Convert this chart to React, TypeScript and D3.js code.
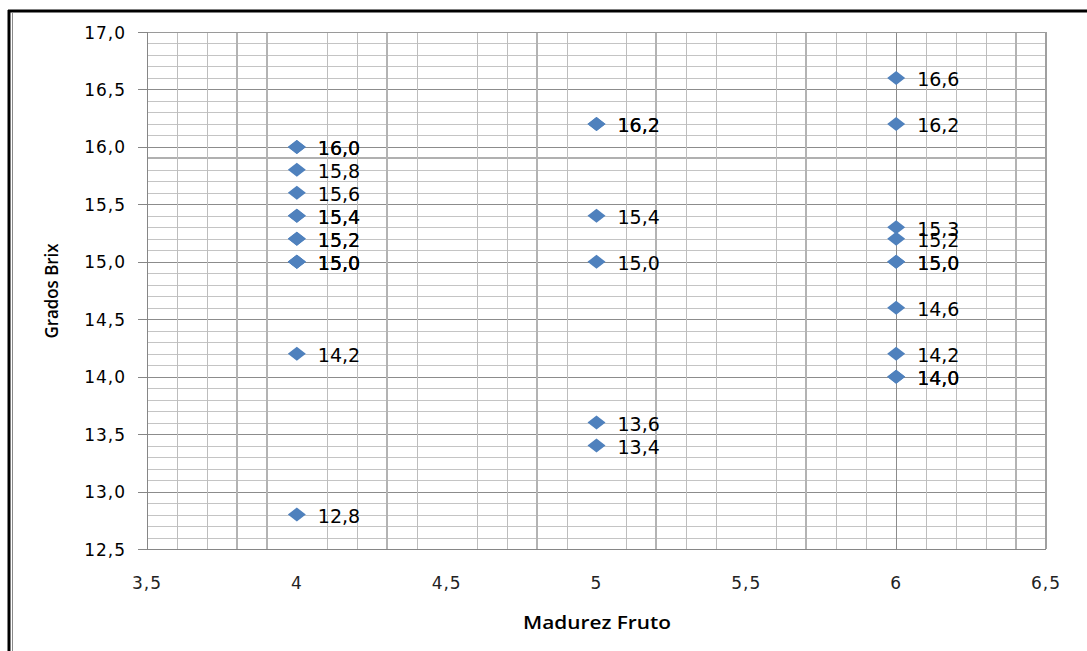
import React from "react";
import * as d3 from "d3";

// Madurez (x) levels and the Grados Brix readings taken at each level
const madurezLevels = [4, 5, 6];
const brixMadurez4 = [16.0, 16.0, 15.8, 15.6, 15.4, 15.4, 15.2, 15.2, 15.0, 15.0, 15.0, 14.2, 12.8];
const brixMadurez5 = [16.2, 16.2, 15.4, 15.0, 13.6, 13.4];
const brixMadurez6 = [16.6, 16.2, 15.3, 15.2, 15.0, 15.0, 14.6, 14.2, 14.0, 14.0];

// Axis ticks
const xTicks = [3.5, 4, 4.5, 5, 5.5, 6, 6.5];
const yTicks = [12.5, 13.0, 13.5, 14.0, 14.5, 15.0, 15.5, 16.0, 16.5, 17.0];

// Vertical grid lines (data units)
const xGridLight = [3.6, 3.7, 4.1, 4.2, 4.4, 4.6, 4.7, 4.9, 5.1, 5.3, 5.4, 5.6, 5.8, 5.9, 6.1, 6.2, 6.3];
const xGridHeavy = [3.8, 3.9, 4.3, 4.8, 5.2, 5.7, 6.4];
const xGridMid = [6.0];

// Horizontal grid lines (data units)
const yGridMinor = [
  12.6, 12.7, 12.8, 12.9, 13.1, 13.2, 13.3, 13.4, 13.6, 13.7, 13.8, 13.9,
  14.1, 14.2, 14.3, 14.4, 14.6, 14.7, 14.8, 14.9, 15.1, 15.2, 15.3, 15.4,
  15.6, 15.7, 15.8, 16.1, 16.2, 16.3, 16.4, 16.6, 16.7, 16.8, 16.9,
];
const yGridHeavy = [15.9];
const yGridMajor = [13.0, 13.5, 14.0, 14.5, 15.0, 15.5, 16.0, 16.5];

const seriesByLevel = [brixMadurez4, brixMadurez5, brixMadurez6];

const W = 1087;
const H = 651;
const plot = { left: 147, right: 1046, top: 32, bottom: 549 };

const fmt = (v: number) => v.toFixed(1).replace(".", ",");
const fmtX = (v: number) => (Number.isInteger(v) ? String(v) : String(v).replace(".", ","));

export default function App() {
  const x = d3.scaleLinear().domain([3.5, 6.5]).range([plot.left, plot.right]);
  const y = d3.scaleLinear().domain([12.5, 17.0]).range([plot.bottom, plot.top]);

  const points = seriesByLevel.flatMap((vals, i) =>
    vals.map((v) => ({ mx: madurezLevels[i], brix: v }))
  );

  const diamond = (cx: number, cy: number) =>
    `M${cx},${cy - 7}L${cx + 9},${cy}L${cx},${cy + 7}L${cx - 9},${cy}Z`;

  return (
    <svg
      width={W}
      height={H}
      style={{ position: "absolute", left: 0, top: 0, background: "#fff" }}
    >
      {/* outer frame */}
      <line x1={9} y1={10} x2={9} y2={H + 2} stroke="#000" strokeWidth={3} />
      <line x1={12.5} y1={13} x2={12.5} y2={H + 2} stroke="#8a8a8a" strokeWidth={1} />
      <line x1={8} y1={11} x2={W + 2} y2={11} stroke="#000" strokeWidth={3} />

      {/* horizontal grid */}
      {yGridMinor.map((v) => (
        <line key={`hm${v}`} x1={plot.left} x2={plot.right} y1={Math.round(y(v)) + 0.5} y2={Math.round(y(v)) + 0.5} stroke="#c4c4c4" strokeWidth={1} />
      ))}
      {yGridHeavy.map((v) => (
        <line key={`hh${v}`} x1={plot.left} x2={plot.right} y1={Math.round(y(v))} y2={Math.round(y(v))} stroke="#b0b0b0" strokeWidth={2} />
      ))}
      {yGridMajor.map((v) => (
        <line key={`hj${v}`} x1={plot.left} x2={plot.right} y1={Math.round(y(v)) + 0.5} y2={Math.round(y(v)) + 0.5} stroke="#8c8c8c" strokeWidth={1} />
      ))}

      {/* vertical grid */}
      {xGridLight.map((v) => (
        <line key={`vl${v}`} y1={plot.top} y2={plot.bottom} x1={Math.round(x(v)) + 0.5} x2={Math.round(x(v)) + 0.5} stroke="#bdbdbd" strokeWidth={1} />
      ))}
      {xGridHeavy.map((v) => (
        <line key={`vh${v}`} y1={plot.top} y2={plot.bottom} x1={Math.round(x(v))} x2={Math.round(x(v))} stroke="#b3b3b3" strokeWidth={2} />
      ))}
      {xGridMid.map((v) => (
        <line key={`vm${v}`} y1={plot.top} y2={plot.bottom} x1={Math.round(x(v)) + 0.5} x2={Math.round(x(v)) + 0.5} stroke="#8c8c8c" strokeWidth={1} />
      ))}

      {/* plot border */}
      <line x1={plot.left} x2={plot.right} y1={plot.top + 0.5} y2={plot.top + 0.5} stroke="#9a9a9a" />
      <line x1={plot.left} x2={plot.right} y1={plot.bottom + 0.5} y2={plot.bottom + 0.5} stroke="#868686" />
      <line x1={plot.right} x2={plot.right} y1={plot.top} y2={plot.bottom} stroke="#a0a0a0" strokeWidth={2} />
      <line x1={plot.left + 0.5} x2={plot.left + 0.5} y1={plot.top} y2={plot.bottom + 1} stroke="#868686" />

      {/* y ticks and labels */}
      {yTicks.map((v) => (
        <g key={`yt${v}`}>
          <line x1={plot.left - 9} x2={plot.left} y1={Math.round(y(v)) + 0.5} y2={Math.round(y(v)) + 0.5} stroke="#868686" />
          <text
            x={126}
            y={y(v) + 6.5}
            textAnchor="end"
            fontFamily="DejaVu Sans"
            fontSize={17}
            letterSpacing={1}
            fill="#000"
          >
            {fmt(v)}
          </text>
        </g>
      ))}

      {/* x labels */}
      {xTicks.map((v) => (
        <text
          key={`xt${v}`}
          x={x(v)}
          y={589}
          textAnchor="middle"
          fontFamily="DejaVu Sans"
          fontSize={17}
          letterSpacing={1}
          fill="#222"
        >
          {fmtX(v)}
        </text>
      ))}

      {/* axis titles */}
      <text
        x={597}
        y={629}
        textAnchor="middle"
        fontFamily="Open Sans"
        fontWeight={600}
        fontSize={18}
        textLength={148}
        lengthAdjust="spacingAndGlyphs"
        fill="#000"
      >
        Madurez Fruto
      </text>
      <text
        transform="translate(58,291) rotate(-90)"
        textAnchor="middle"
        fontFamily="Open Sans"
        fontWeight={600}
        fontSize={18}
        textLength={95}
        lengthAdjust="spacingAndGlyphs"
        fill="#000"
      >
        Grados Brix
      </text>

      {/* points */}
      {points.map((p, i) => (
        <path key={`p${i}`} d={diamond(x(p.mx), y(p.brix))} fill="#4f81bd" />
      ))}

      {/* value labels */}
      {points.map((p, i) => (
        <text
          key={`l${i}`}
          x={x(p.mx) + 21}
          y={y(p.brix) + 8.5}
          fontFamily="DejaVu Sans"
          fontSize={19}
          fill="#000"
        >
          {fmt(p.brix)}
        </text>
      ))}
    </svg>
  );
}
